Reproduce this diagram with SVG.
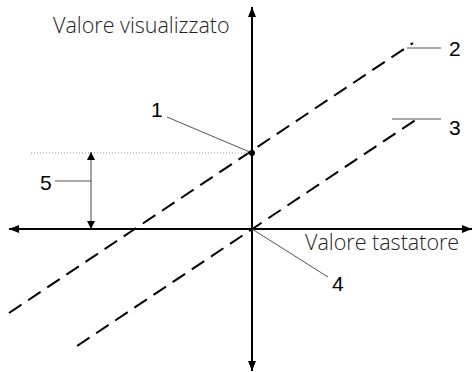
<svg xmlns="http://www.w3.org/2000/svg" width="473" height="372" viewBox="0 0 473 372">
<style>
.axis{stroke:#000;stroke-width:2;fill:none}
.dash{stroke:#000;stroke-width:2;fill:none;stroke-dasharray:15 8}
.lead{stroke:#555;stroke-width:1;fill:none}
.dim{stroke:#444;stroke-width:1;fill:none}
.dot{stroke:#999;stroke-width:1;stroke-dasharray:1 2;fill:none}
.title{font-family:"Open Sans",sans-serif;font-size:21.5px;fill:#222;font-weight:300}
.num{font-family:"Liberation Sans",Arial,sans-serif;font-size:21px;fill:#000}
</style>
<defs>
<marker id="ah" viewBox="0 0 10 10" refX="10" refY="5" markerWidth="10" markerHeight="10" markerUnits="userSpaceOnUse" orient="auto">
<path d="M0,1 L10,5 L0,9 Z" fill="#000"/>
</marker>
<marker id="sh" viewBox="0 0 10 10" refX="10" refY="5" markerWidth="8" markerHeight="9" markerUnits="userSpaceOnUse" orient="auto">
<path d="M0,0 L10,5 L0,10 Z" fill="#000"/>
</marker>
</defs>
<g id="connectors">
<line class="axis" x1="252" y1="229" x2="252" y2="7" marker-end="url(#ah)"/>
<line class="axis" x1="252" y1="229" x2="252" y2="371" marker-end="url(#ah)"/>
<line class="axis" x1="252" y1="229" x2="9" y2="229" marker-end="url(#ah)"/>
<line class="axis" x1="252" y1="229" x2="472" y2="229" marker-end="url(#ah)"/>
<line class="dash" x1="9" y1="313" x2="413" y2="43"/>
<line class="dash" x1="77" y1="346" x2="420" y2="117"/>
<line class="dot" x1="31" y1="153" x2="250" y2="153"/>
<line class="dim" x1="91" y1="181" x2="91" y2="152" marker-end="url(#sh)"/>
<line class="dim" x1="91" y1="181" x2="91" y2="229" marker-end="url(#sh)"/>
<line class="lead" x1="167" y1="117" x2="252" y2="153"/>
<line class="lead" x1="407" y1="48" x2="441" y2="48"/>
<line class="lead" x1="392" y1="119" x2="441" y2="119"/>
<line class="lead" x1="252" y1="229" x2="328" y2="277"/>
<line class="lead" x1="55" y1="181" x2="91" y2="181"/>
</g>
<g id="point1"><circle cx="252" cy="153" r="3" fill="#000"/></g>
<g id="label-y"><text class="title" x="53" y="33">Valore visualizzato</text></g>
<g id="label-x"><text class="title" x="305" y="250">Valore tastatore</text></g>
<g id="label1"><text class="num" x="151" y="117">1</text></g>
<g id="label2"><text class="num" x="449" y="56">2</text></g>
<g id="label3"><text class="num" x="449" y="135">3</text></g>
<g id="label4"><text class="num" x="332" y="291">4</text></g>
<g id="label5"><text class="num" x="40" y="190">5</text></g>
</svg>
